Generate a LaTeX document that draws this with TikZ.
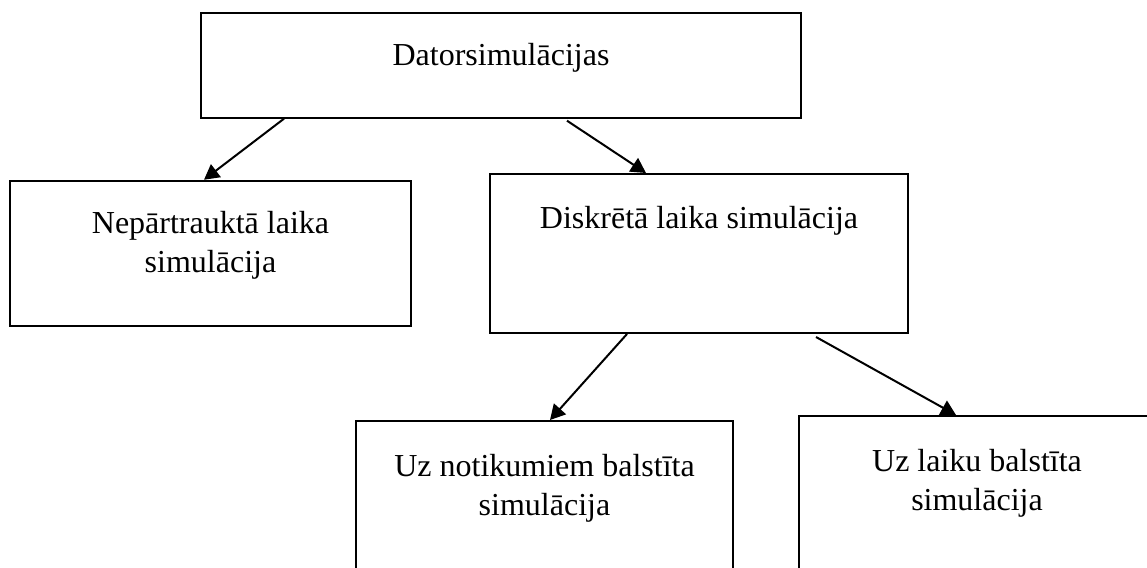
\documentclass[tikz,border=0pt]{standalone}
\usepackage{fontspec}
\setmainfont{Liberation Serif}
\usetikzlibrary{arrows.meta}
\begin{document}
\begin{tikzpicture}[x=1pt,y=-1pt,
  box/.style={draw=black, line width=2pt, rectangle, inner sep=0pt},
  txt/.style={inner sep=0pt, align=center, font=\fontsize{32}{39}\selectfont},
  arr/.style={line width=2pt, -{Triangle[length=15pt,width=16pt]}}]
\useasboundingbox (0,0) rectangle (1147,567);
\clip (0,0) rectangle (1147,567);
% boxes
\node[box, minimum width=600pt, minimum height=105pt] (top) at (501,65.2) {};
\node[box, minimum width=401pt, minimum height=145.3pt] (left) at (210.5,253.4) {};
\node[box, minimum width=418pt, minimum height=159pt] (mid) at (699,253.5) {};
\node[box, minimum width=377pt, minimum height=219pt] (bl) at (544.5,530.5) {};
\node[box, minimum width=361pt, minimum height=224pt] (br) at (979.5,528) {};
% texts
\node[txt] (toptext) at (501,58) {Datorsimulācijas};
\node[txt] (lefttext) at (210.5,245) {Nepārtrauktā laika\\simulācija};
\node[txt] (midtext) at (699,221) {Diskrētā laika simulācija};
\node[txt] (bltext) at (544.5,488) {Uz notikumiem balstīta\\simulācija};
\node[txt] (brtext) at (977,483) {Uz laiku balstīta\\simulācija};
% arrows
\draw[arr] ([xshift=84pt]top.south west) -- ([xshift=195pt]left.north west);
\draw[arr] ([xshift=367pt,yshift=-2pt]top.south west) -- ([xshift=157pt]mid.north west);
\draw[arr] ([xshift=138pt]mid.south west) -- ([xshift=195pt]bl.north west);
\draw[arr] ([xshift=327pt,yshift=-3pt]mid.south west) -- ([xshift=158pt]br.north west);
\end{tikzpicture}
\end{document}
